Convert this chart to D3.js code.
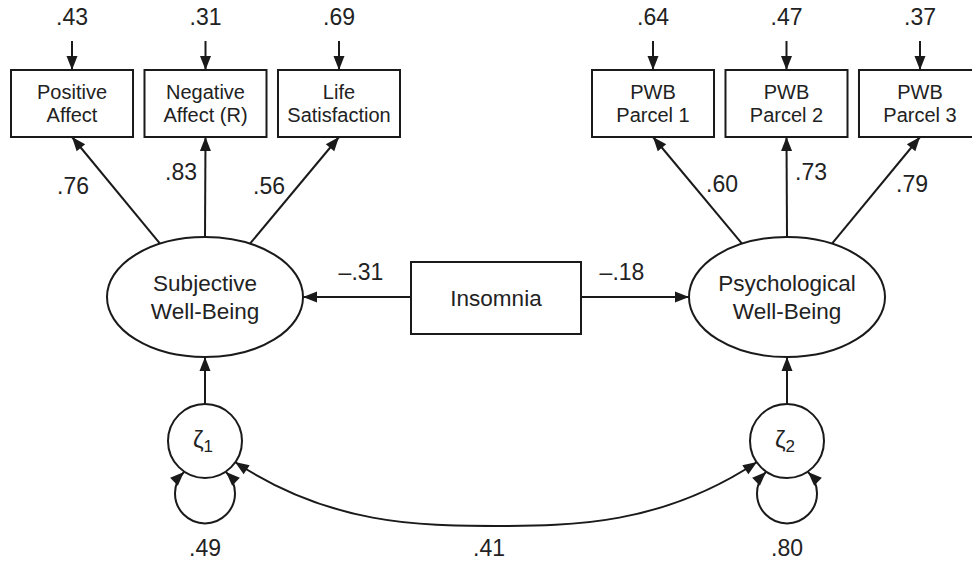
<!DOCTYPE html>
<html><head><meta charset="utf-8">
<script src="https://cdn.jsdelivr.net/npm/d3@7"></script>
<style>
html,body{margin:0;padding:0;background:#fff;}
svg text{font-family:"Liberation Sans",Arial,Helvetica,sans-serif;fill:#222;}
</style></head>
<body><svg id="c" width="972" height="563"></svg>
<script>
// ---- data ----
const swbIndicators = [["Positive","Affect"],["Negative","Affect (R)"],["Life","Satisfaction"]];
const swbLoadings = [".76", ".83", ".56"];
const swbErrors = [".43", ".31", ".69"];
const pwbIndicators = [["PWB","Parcel 1"],["PWB","Parcel 2"],["PWB","Parcel 3"]];
const pwbLoadings = [".60", ".73", ".79"];
const pwbErrors = [".64", ".47", ".37"];
const latents = [["Subjective","Well-Being"],["Psychological","Well-Being"]];
const predictor = "Insomnia";
const structuralPaths = ["\u2013.31", "\u2013.18"];
const disturbances = ["1", "2"];
const disturbanceVariances = [".49", ".80"];
const disturbanceCovariance = ".41";

// ---- drawing ----
const svg = d3.select("#c");
const ink = "#1a1a1a";
const defs = svg.append("defs");
defs.append("marker").attr("id","arr").attr("viewBox","-15 -6 16 12")
  .attr("refX",0).attr("refY",0).attr("markerWidth",16).attr("markerHeight",12)
  .attr("markerUnits","userSpaceOnUse").attr("orient","auto-start-reverse")
  .append("path").attr("d","M0,0 L-14,-5.5 L-14,5.5 Z").attr("fill",ink);

const boxTop = 70, boxBottom = 137;
const xLeft = d3.scaleBand().domain(d3.range(3)).range([11, 400]).paddingInner(0.086);
const xRight = d3.scaleBand().domain(d3.range(3)).range([592, 981]).paddingInner(0.086);
const ell = [{cx:205, cy:297}, {cx:787, cy:297}];
const rx = 98, ry = 60;
const zeta = [{cx:205, cy:441}, {cx:787, cy:441}];
const zr = 37;

function line(x1,y1,x2,y2,marker){
  const l = svg.append("line").attr("x1",x1).attr("y1",y1).attr("x2",x2).attr("y2",y2)
    .attr("stroke",ink).attr("stroke-width",2);
  if (marker) l.attr("marker-end","url(#arr)");
  return l;
}
function label(x,y,t,size){
  return svg.append("text").attr("x",x).attr("y",y).attr("text-anchor","middle")
    .attr("dominant-baseline","central").attr("font-size",size).text(t);
}

function drawGroup(scale, inds, loads, errs, e, labelPos){
  const offs = [-45, 0, 45];
  inds.forEach((lab, i) => {
    const x0 = scale(i), w = scale.bandwidth(), cx = x0 + w/2;
    svg.append("rect").attr("x",x0).attr("y",boxTop).attr("width",w).attr("height",boxBottom-boxTop)
      .attr("fill","#fff").attr("stroke",ink).attr("stroke-width",2);
    label(cx, 92, lab[0], 20);
    label(cx, 115, lab[1], 20);
    // error
    label(cx, 17, errs[i], 23);
    line(cx, 41, cx, boxTop, true);
    // loading
    const dx = offs[i];
    const sy = e.cy - ry*Math.sqrt(1-(dx/rx)*(dx/rx));
    line(e.cx+dx, sy, cx, boxBottom, true);
    label(labelPos[i][0], labelPos[i][1], loads[i], 23);
  });
}
drawGroup(xLeft, swbIndicators, swbLoadings, swbErrors, ell[0], [[73,186],[181,172],[269,186]]);
drawGroup(xRight, pwbIndicators, pwbLoadings, pwbErrors, ell[1], [[722,184],[811,172],[912,184]]);

// latents
latents.forEach((lab, i) => {
  svg.append("ellipse").attr("cx",ell[i].cx).attr("cy",ell[i].cy).attr("rx",rx).attr("ry",ry)
    .attr("fill","#fff").attr("stroke",ink).attr("stroke-width",2);
  label(ell[i].cx, ell[i].cy-14, lab[0], 22.5);
  label(ell[i].cx, ell[i].cy+14, lab[1], 22.5);
});

// predictor
const ins = {x:411, y:262, w:170, h:72};
svg.append("rect").attr("x",ins.x).attr("y",ins.y).attr("width",ins.w).attr("height",ins.h)
  .attr("fill","#fff").attr("stroke",ink).attr("stroke-width",2);
label(ins.x+ins.w/2, ins.y+ins.h/2, predictor, 22.5);
line(ins.x, 297, ell[0].cx+rx, 297, true);
line(ins.x+ins.w, 297, ell[1].cx-rx, 297, true);
label(361, 272, structuralPaths[0], 23);
label(622, 272, structuralPaths[1], 23);

// disturbances
zeta.forEach((z, i) => {
  line(z.cx, z.cy-zr, z.cx, ell[i].cy+ry, true);
  svg.append("circle").attr("cx",z.cx).attr("cy",z.cy).attr("r",zr)
    .attr("fill","#fff").attr("stroke",ink).attr("stroke-width",2);
  const t = svg.append("text").attr("x",z.cx-2).attr("y",z.cy+7).attr("text-anchor","middle")
    .attr("font-size",24);
  t.append("tspan").text("\u03B6");
  t.append("tspan").attr("font-size",17).attr("dy",4).text(disturbances[i]);
  // self loop
  svg.append("path").attr("d",`M${z.cx-21},${z.cy+31} A30,30 0 1 0 ${z.cx+21},${z.cy+31}`)
    .attr("fill","none").attr("stroke",ink).attr("stroke-width",2)
    .attr("marker-start","url(#arr)").attr("marker-end","url(#arr)");
  label(z.cx, 548, disturbanceVariances[i], 23);
});

// covariance
svg.append("path").attr("d",`M235,462 C330,525 420,526 496,526 C572,526 662,525 757,462`)
  .attr("fill","none").attr("stroke",ink).attr("stroke-width",2)
  .attr("marker-start","url(#arr)").attr("marker-end","url(#arr)");
label(489, 548, disturbanceCovariance, 23);
</script></body></html>
